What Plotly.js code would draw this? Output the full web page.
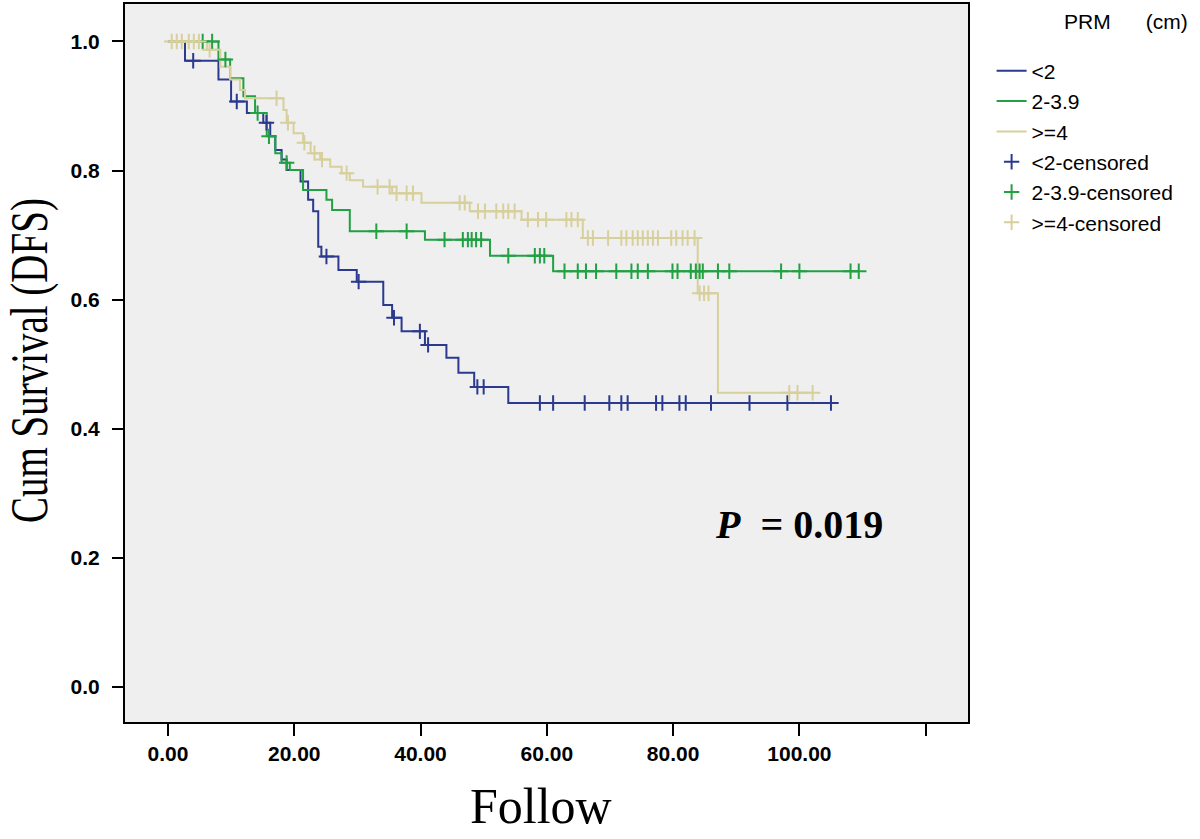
<!DOCTYPE html>
<html>
<head>
<meta charset="utf-8">
<script src="https://cdn.plot.ly/plotly-3.0.1.min.js"></script>
<style>html,body{margin:0;padding:0;background:#fff;}#chart{width:1200px;height:839px;}</style>
</head>
<body>
<div id="chart"></div>
<script>
// ---------- data ----------
const groupNames = ['<2', '2-3.9', '>=4'];
const groupColors = ['#2b3a8e', '#22a043', '#d8d09c'];

// <2 : event times and survival after each event
const lt2Times = [2.7, 8.0, 10.0, 12.5, 15.1, 16.2, 17.0, 18.0, 18.8, 21.0, 22.2, 23.0, 23.8, 24.3, 27.0, 29.9, 34.1, 35.5, 37.0, 40.7, 44.1, 46.0, 48.5, 53.9];
const lt2Surv  = [0.970, 0.941, 0.907, 0.889, 0.874, 0.853, 0.832, 0.817, 0.801, 0.783, 0.755, 0.737, 0.682, 0.667, 0.646, 0.628, 0.592, 0.572, 0.551, 0.530, 0.510, 0.487, 0.465, 0.440];
const lt2Cens  = [4.0, 10.9, 15.6, 25.1, 30.2, 35.8, 39.9, 41.2, 49.0, 50.0, 58.9, 61.0, 66.0, 69.9, 71.8, 72.8, 77.3, 78.3, 81.0, 82.0, 86.0, 92.1, 98.1, 105.0];

// 2-3.9
const midTimes = [8.0, 9.85, 11.95, 13.8, 15.65, 17.0, 18.0, 19.3, 21.4, 25.1, 26.0, 28.8, 40.7, 51.0, 61.0];
const midSurv  = [0.972, 0.943, 0.915, 0.889, 0.853, 0.827, 0.812, 0.801, 0.770, 0.755, 0.739, 0.706, 0.693, 0.668, 0.644];
const midCens  = [5.5, 7.0, 9.1, 14.2, 16.0, 18.8, 33.0, 37.8, 43.8, 46.7, 47.5, 48.1, 48.8, 49.6, 53.9, 58.1, 58.9, 59.6, 62.8, 64.9, 66.2, 67.8, 71.0, 73.4, 74.4, 76.0, 79.9, 80.7, 82.8, 83.6, 84.2, 84.7, 87.1, 88.9, 97.1, 100.0, 108.1, 109.4];

// >=4
const ge4Times = [6.2, 8.3, 9.85, 11.4, 12.2, 18.3, 18.8, 19.9, 21.4, 22.6, 24.1, 25.7, 27.5, 28.8, 30.9, 35.5, 40.15, 47.8, 56.0, 65.7, 83.9, 87.1];
const ge4Surv  = [0.987, 0.961, 0.941, 0.925, 0.912, 0.894, 0.874, 0.858, 0.843, 0.827, 0.817, 0.806, 0.796, 0.785, 0.775, 0.765, 0.750, 0.737, 0.724, 0.6955, 0.610, 0.456];
const ge4Cens  = [0.6, 1.4, 2.2, 3.3, 4.1, 4.9, 6.6, 17.2, 19.0, 21.6, 23.2, 24.4, 28.3, 33.2, 35.1, 36.2, 37.8, 38.8, 46.2, 47.0, 49.1, 50.2, 52.0, 53.1, 53.9, 54.9, 57.0, 58.6, 59.9, 63.1, 63.9, 64.9, 66.5, 67.3, 69.7, 71.8, 72.6, 73.6, 74.4, 75.2, 76.0, 76.8, 77.6, 79.7, 80.5, 81.5, 82.3, 83.4, 84.2, 84.9, 85.6, 98.4, 99.7, 102.1];

const xTickVals = [0, 20, 40, 60, 80, 100, 120];
const xTickText = ['0.00', '20.00', '40.00', '60.00', '80.00', '100.00', ''];
const yTickVals = [0, 0.2, 0.4, 0.6, 0.8, 1.0];
const yTickText = ['0.0', '0.2', '0.4', '0.6', '0.8', '1.0'];

const pText = 'P';
const pValue = '0.019';

// ---------- build traces ----------
function survAt(times, surv, t) {
  let s = 1;
  for (let i = 0; i < times.length; i++) { if (times[i] <= t) s = surv[i]; }
  return s;
}
function stepTrace(times, surv, cens, name, color) {
  const end = Math.max(times[times.length - 1], ...cens);
  const x = [0].concat(times).concat([end]);
  const y = [1].concat(surv).concat([surv[surv.length - 1]]);
  return {x: x, y: y, mode: 'lines', line: {shape: 'hv', color: color, width: 2}, name: name, hoverinfo: 'skip'};
}
function censTrace(times, surv, cens, name, color) {
  return {x: cens, y: cens.map(t => survAt(times, surv, t)), mode: 'markers', name: name + '-censored',
    marker: {symbol: 'cross-thin-open', size: 11, color: color, line: {color: color, width: 2}}, hoverinfo: 'skip'};
}
const sets = [[lt2Times, lt2Surv, lt2Cens], [midTimes, midSurv, midCens], [ge4Times, ge4Surv, ge4Cens]];
const lineTraces = sets.map((s, i) => stepTrace(s[0], s[1], s[2], groupNames[i], groupColors[i]));
const censTraces = sets.map((s, i) => censTrace(s[0], s[1], s[2], groupNames[i], groupColors[i]));
const data = lineTraces.concat(censTraces);

const sans = 'Liberation Sans, Arial, sans-serif';
const serif = 'Liberation Serif, Times New Roman, serif';
const sp = n => '\u00a0'.repeat(n);

const layout = {
  width: 1200, height: 839,
  margin: {l: 125, r: 232, t: 4, b: 117},
  paper_bgcolor: '#ffffff',
  plot_bgcolor: '#efefef',
  showlegend: true,
  legend: {x: 1.028, y: 0.935, xanchor: 'left', yanchor: 'top', font: {family: sans, size: 21, color: '#000'},
    bgcolor: 'rgba(0,0,0,0)', tracegroupgap: 0, itemwidth: 30},
  xaxis: {range: [-6.8, 126.7], tickvals: xTickVals, ticktext: xTickText, ticks: 'outside', ticklen: 12,
    tickwidth: 2, tickcolor: '#000', showline: true, linecolor: '#000', linewidth: 2, mirror: true,
    showgrid: false, zeroline: false, tickfont: {family: sans, size: 21, color: '#000', weight: 'bold'}},
  yaxis: {range: [-0.054, 1.058], tickvals: yTickVals, ticktext: yTickText, ticks: 'outside', ticklen: 11,
    tickwidth: 2, tickcolor: '#000', showline: true, linecolor: '#000', linewidth: 2, mirror: true,
    showgrid: false, zeroline: false, ticklabelstandoff: 8, tickfont: {family: sans, size: 21, color: '#000', weight: 'bold'}},
  annotations: [
    {text: 'Follow', xref: 'paper', yref: 'paper', x: 0.493, y: -0.117, xanchor: 'center', yanchor: 'middle',
     showarrow: false, font: {family: serif, size: 50, color: '#000'}},
    {text: 'Cum Survival (DFS)', xref: 'paper', yref: 'paper', x: -0.1127, y: 0.504, xanchor: 'center', yanchor: 'middle',
     textangle: -90, showarrow: false, font: {family: serif, size: 39, color: '#000'}},
    {text: '<b><i>' + pText + '</i>' + sp(2) + '=' + sp(1) + pValue + '</b>', xref: 'paper', yref: 'paper', x: 0.8, y: 0.275,
     xanchor: 'center', yanchor: 'middle', showarrow: false, font: {family: serif, size: 40, color: '#000'}},
    {text: 'PRM' + sp(6) + '(cm)', xref: 'paper', yref: 'paper', x: 1.188, y: 0.975, xanchor: 'center', yanchor: 'middle',
     showarrow: false, font: {family: sans, size: 21, color: '#000'}}
  ]
};

Plotly.newPlot('chart', data, layout, {displayModeBar: false, staticPlot: true}).then(function (gd) {
  // the reference's axis title glyphs are tall and narrow: stretch the rotated title across its glyph height
  const texts = gd.querySelectorAll('.annotation-text');
  const t = texts[1];
  if (t) {
    const b = t.getBBox();
    const cx = b.x + b.width / 2, cy = b.y + b.height / 2;
    const prev = t.getAttribute('transform') || '';
    t.setAttribute('transform', prev + ' translate(' + cx + ',' + cy + ') scale(1,1.35) translate(' + (-cx) + ',' + (-cy) + ')');
  }
});
</script>
</body>
</html>
